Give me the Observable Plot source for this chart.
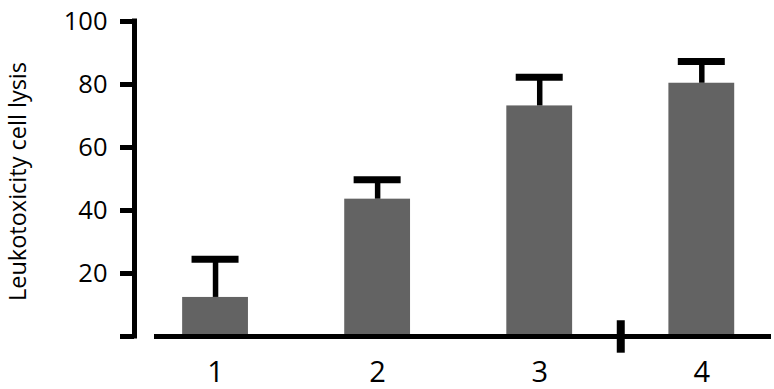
<!DOCTYPE html>
<html>
<head>
<meta charset="utf-8">
<script src="https://cdn.jsdelivr.net/npm/d3@7"></script>
<script src="https://cdn.jsdelivr.net/npm/@observablehq/plot@0.6"></script>
<style>
  html, body { margin: 0; padding: 0; background: #fff; }
</style>
</head>
<body>
<div id="chart"></div>
<script>
const categories = [1, 2, 3, 4];
const means = [12.4, 43.6, 73.2, 80.4];
const errors = [12.1, 6.2, 9.1, 6.9];
const yTicks = [0, 20, 40, 60, 80, 100];
const yTitle = "Leukotoxicity cell lysis";
const axisBreaks = [3.5];

const data = categories.map((c, i) => ({cat: c, mean: means[i], err: errors[i]}));
const xDomain = [0.5, 4.43];

const chart = Plot.plot({
  width: 774,
  height: 389,
  marginTop: 21,
  marginBottom: 53,
  marginLeft: 134,
  marginRight: 3,
  style: {fontFamily: "'Open Sans', sans-serif", color: "#000", background: "#fff"},
  x: {domain: xDomain},
  y: {domain: [0, 100]},
  marks: [
    Plot.rectY(data, {x1: d => d.cat - 0.203, x2: d => d.cat + 0.203, y1: 0, y2: "mean", fill: "#636363"}),
    Plot.ruleX(data, {x: "cat", y1: "mean", y2: d => d.mean + d.err, strokeWidth: 5.5, stroke: "#000"}),
    Plot.ruleY(data, {y: d => d.mean + d.err, x1: d => d.cat - 0.145, x2: d => d.cat + 0.145, strokeWidth: 7, stroke: "#000"}),
    Plot.ruleY([0], {insetLeft: 20, strokeWidth: 5, stroke: "#000"}),
    Plot.ruleX([xDomain[0]], {strokeWidth: 5, stroke: "#000", insetTop: -2.5, insetBottom: -2.5}),
    Plot.ruleX(axisBreaks, {y1: -5.3, y2: 5, strokeWidth: 8, stroke: "#000"}),
    Plot.axisY({ticks: yTicks, tickSize: 14, tickPadding: 13, strokeWidth: 5, fontSize: 25.5, tickFormat: d => d === 0 ? "" : String(d), label: null}),
    Plot.axisX({ticks: categories, tickSize: 0, tickPadding: 25, fontSize: 29, tickFormat: d => String(d), label: null}),
    Plot.text([yTitle], {frameAnchor: "left", textAnchor: "middle", rotate: -90, dx: -116, dy: 2.5, fontSize: 23.5, fill: "#000"})
  ]
});
document.getElementById("chart").appendChild(chart);
</script>
</body>
</html>
